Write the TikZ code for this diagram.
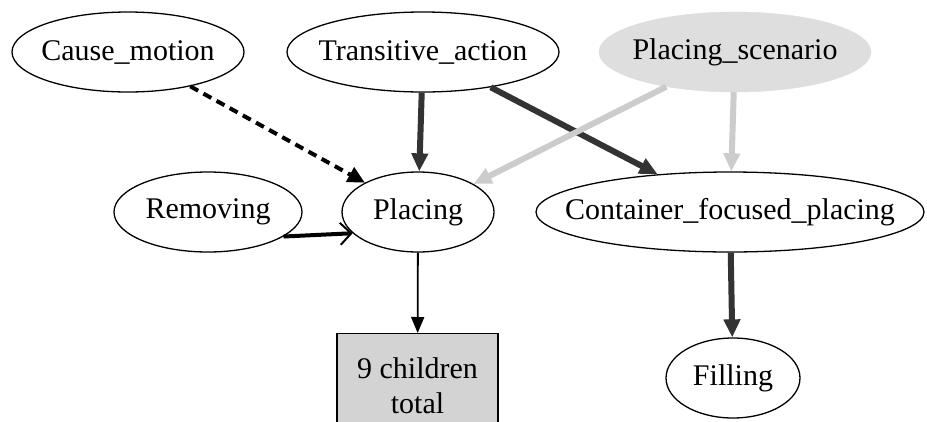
\documentclass[tikz,border=0pt]{standalone}
\usepackage{fontspec}
\setmainfont{Liberation Serif}
\usetikzlibrary{shapes.geometric,arrows.meta}
\definecolor{darkedge}{HTML}{333333}
\definecolor{lightedge}{HTML}{CCCCCC}
\definecolor{scenfill}{HTML}{DEDEDE}
\definecolor{boxfill}{HTML}{D3D3D3}
\newcommand{\zb}[1]{\makebox[0pt]{#1}}
\begin{document}
\begin{tikzpicture}[x=1pt,y=-1pt,
  frame/.style={ellipse,draw=black,line width=1.3pt,inner sep=0pt,font=\fontsize{30}{35}\selectfont},
  graynode/.style={ellipse,draw=scenfill,fill=scenfill,inner sep=0pt,font=\fontsize{30}{35}\selectfont},
  boxnode/.style={rectangle,draw=black,line width=1.3pt,fill=boxfill,inner sep=0pt,align=center,font=\fontsize{30}{35}\selectfont},
  darkarrow/.style={draw=darkedge,line width=6pt,-{Triangle[length=18pt,width=16pt]}},
  lightarrow/.style={draw=lightedge,line width=6pt,-{Triangle[length=18pt,width=16pt]}},
  dasharrow/.style={draw=black,line width=4pt,dash pattern=on 9pt off 6pt,-{Triangle[length=17pt,width=16pt]}},
  thinarrow/.style={draw=black,line width=1.8pt,-{Triangle[length=16pt,width=13pt]}},
  openarrow/.style={draw=black,line width=4pt,-{Straight Barb[length=11pt,width=22pt,line width=2pt]}}
]
\clip (0,0) rectangle (927,421);
\fill[white] (0,0) rectangle (927,421);
\node[frame,minimum width=232pt,minimum height=80pt] (cm) at (128,52) {\zb{Cause\_motion}};
\node[frame,minimum width=272pt,minimum height=80pt] (ta) at (423,52) {\zb{Transitive\_action}};
\node[graynode,minimum width=272pt,minimum height=80pt] (ps) at (735,52) {\zb{Placing\_scenario}};
\node[frame,minimum width=188pt,minimum height=80pt] (rem) at (208,212) {\zb{Removing}};
\node[frame,minimum width=152pt,minimum height=80pt] (pl) at (418,212) {\zb{Placing}};
\node[frame,minimum width=388pt,minimum height=80pt] (cfp) at (730,212) {\zb{Container\_focused\_placing}};
\node[frame,minimum width=134pt,minimum height=80pt] (fill) at (733,378) {\zb{Filling}};
\node[boxnode,minimum width=161pt,minimum height=104pt,anchor=north] (box) at (417.5,333) {9 children\\total};
\draw[dasharrow] (cm) -- (pl);
\draw[darkarrow] (ta) -- (pl);
\draw[darkarrow] (ta) -- (cfp);
\draw[lightarrow] (ps) -- (pl);
\draw[lightarrow] (ps) -- (cfp);
\draw[openarrow] (rem.-18.9) -- (pl.198.9);
\draw[thinarrow] (pl) -- (box);
\draw[darkarrow] (cfp) -- (fill);
\end{tikzpicture}
\end{document}
